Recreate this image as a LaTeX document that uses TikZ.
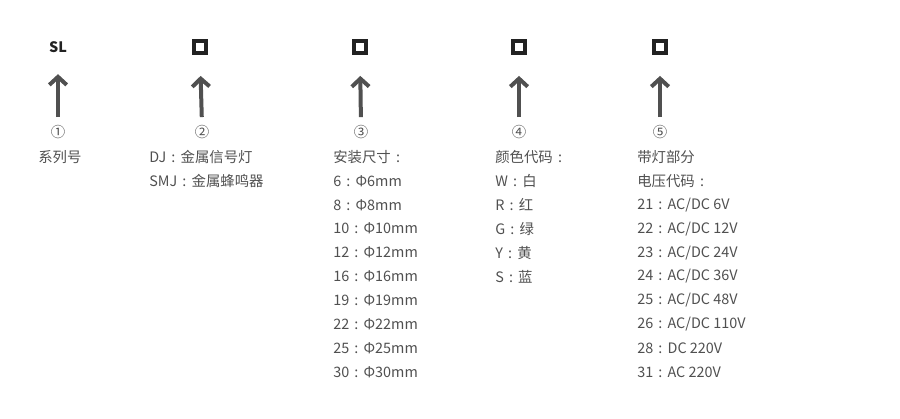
\documentclass[tikz,border=0pt]{standalone}
\usepackage{fontspec}
\setmainfont{Noto Sans CJK SC}
\usetikzlibrary{arrows.meta}
\definecolor{txtgray}{HTML}{505050}
\definecolor{boxblack}{HTML}{222222}
\newcommand{\cl}{\hspace{0.36em}:\hspace{0.36em}}
\begin{document}
\begin{tikzpicture}[x=0.75pt, y=-0.75pt,
      H/.style={draw=boxblack, line width=2.4pt, minimum size=9pt, inner sep=0pt},
      N/.style={text=txtgray, font=\fontsize{10.8pt}{12pt}\selectfont, inner sep=0pt},
      T/.style={text=txtgray, font=\fontsize{10.8pt}{12pt}\selectfont, anchor=west, inner sep=0pt},
      A/.style={draw=txtgray, line width=3pt, -{Straight Barb[length=6pt, width=13pt, line width=3pt]},
        shorten <=6pt, shorten >=16pt}
    ]
    \useasboundingbox (0,0) rectangle (900,418);
    % header
    \node [font=\fontsize{10.8pt}{12pt}\selectfont\bfseries, text=boxblack, inner sep=0pt] (h1) at (58,47) {SL};
    \node [H] (h2) at (200,47) {};
    \node [H] (h3) at (360,47) {};
    \node [H] (h4) at (519,47) {};
    \node [H] (h5) at (660,47) {};
    % numbers
    \node [N] (n1) at (58,132) {①};
    \node [N] (n2) at (202,132) {②};
    \node [N] (n3) at (361,132) {③};
    \node [N] (n4) at (519,132) {④};
    \node [N] (n5) at (660,132) {⑤};
    \foreach \i in {1,...,5}
      \draw [A] (n\i.north) -- (h\i.south);
    % columns
    \node [T] (c1-1) at (38,157) {系列号};
    \node [T] (c2-1) at (149,157) {DJ\cl 金属信号灯};
    \node [T] (c2-2) at (149,181) {SMJ\cl 金属蜂鸣器};
    \foreach \t [count=\i] in {安装尺寸\cl, 6\cl Φ6mm, 8\cl Φ8mm, 10\cl Φ10mm, 12\cl Φ12mm,
        16\cl Φ16mm, 19\cl Φ19mm, 22\cl Φ22mm, 25\cl Φ25mm, 30\cl Φ30mm}
      \node [T] (c3-\i) at (333,157+23.9*\i-23.9) {\t};
    \foreach \t [count=\i] in {颜色代码\cl, W\cl 白, R\cl 红, G\cl 绿, Y\cl 黄, S\cl 蓝}
      \node [T] (c4-\i) at (495,157+23.9*\i-23.9) {\t};
    \foreach \t [count=\i] in {带灯部分, 电压代码\cl, 21\cl AC/DC 6V, 22\cl AC/DC 12V, 23\cl AC/DC 24V,
        24\cl AC/DC 36V, 25\cl AC/DC 48V, 26\cl AC/DC 110V, 28\cl DC 220V, 31\cl AC 220V}
      \node [T] (c5-\i) at (637,157+23.9*\i-23.9) {\t};
  \end{tikzpicture}
\end{document}
